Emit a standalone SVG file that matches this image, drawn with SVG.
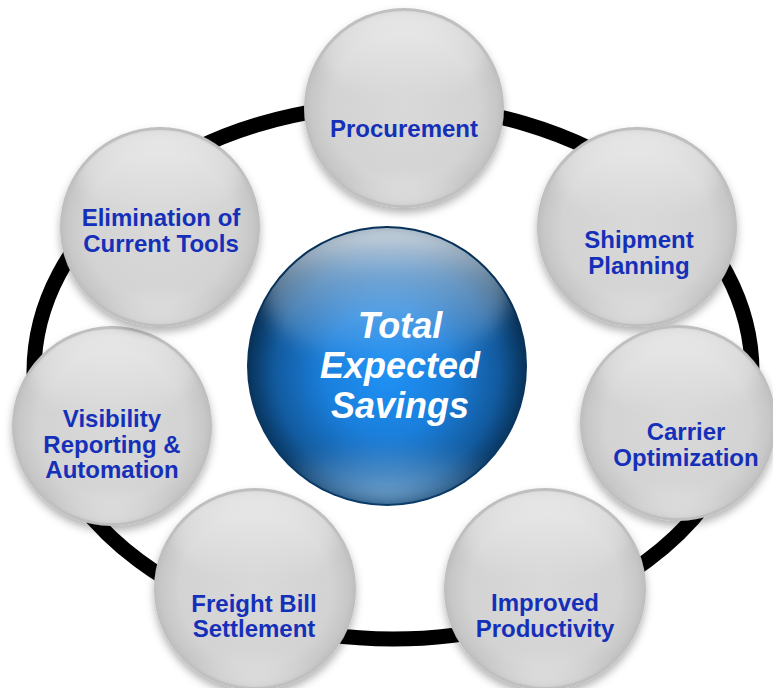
<svg xmlns="http://www.w3.org/2000/svg" width="773" height="688" viewBox="0 0 773 688">
<defs>
<radialGradient id="gBase" cx="50%" cy="50%" r="50%">
<stop offset="0" stop-color="#d9d9d9"/>
<stop offset="0.75" stop-color="#d3d3d3"/>
<stop offset="0.93" stop-color="#c7c7c7"/>
<stop offset="1" stop-color="#bdbdbd"/>
</radialGradient>
<linearGradient id="gGloss" x1="0" y1="0" x2="0" y2="1">
<stop offset="0" stop-color="#ffffff" stop-opacity="0.6"/>
<stop offset="1" stop-color="#ffffff" stop-opacity="0"/>
</linearGradient>
<radialGradient id="gLow" cx="50%" cy="100%" r="60%">
<stop offset="0" stop-color="#ffffff" stop-opacity="0.45"/>
<stop offset="1" stop-color="#ffffff" stop-opacity="0"/>
</radialGradient>
<radialGradient id="bBase" cx="50%" cy="52%" r="50%">
<stop offset="0" stop-color="#1f92f6"/>
<stop offset="0.45" stop-color="#1a7fdc"/>
<stop offset="0.8" stop-color="#125a9e"/>
<stop offset="1" stop-color="#073158"/>
</radialGradient>
<linearGradient id="bGloss" x1="0" y1="0" x2="0" y2="1">
<stop offset="0" stop-color="#ffffff" stop-opacity="0.9"/>
<stop offset="0.4" stop-color="#dceaf6" stop-opacity="0.45"/>
<stop offset="1" stop-color="#ffffff" stop-opacity="0"/>
</linearGradient>
<radialGradient id="bLow" cx="50%" cy="100%" r="65%">
<stop offset="0" stop-color="#a8d0f0" stop-opacity="0.7"/>
<stop offset="1" stop-color="#a8d0f0" stop-opacity="0"/>
</radialGradient>
<filter id="sh" x="-20%" y="-20%" width="140%" height="150%">
<feDropShadow dx="0" dy="5" stdDeviation="4" flood-color="#000" flood-opacity="0.3"/>
</filter>
<filter id="soft" x="-30%" y="-30%" width="160%" height="160%">
<feGaussianBlur stdDeviation="7"/>
</filter>
<filter id="soft2" x="-30%" y="-30%" width="160%" height="160%">
<feGaussianBlur stdDeviation="9"/>
</filter>
<clipPath id="cc"><circle cx="0" cy="0" r="97"/></clipPath>
<clipPath id="bc"><circle cx="387" cy="366" r="138"/></clipPath>
<symbol id="ball" viewBox="-100 -100 200 200" overflow="visible">
<circle r="100" fill="url(#gBase)"/>
<g clip-path="url(#cc)">
<ellipse cx="0" cy="-56" rx="84" ry="46" fill="url(#gGloss)" filter="url(#soft)"/>
<ellipse cx="0" cy="66" rx="75" ry="36" fill="url(#gLow)" filter="url(#soft)"/>
</g>
</symbol>
</defs>
<style>
.t{font-family:"Liberation Sans",Arial,sans-serif;font-weight:bold;font-size:24px;fill:#1530b8;text-anchor:middle}
.c{font-family:"Liberation Sans",Arial,sans-serif;font-weight:bold;font-style:italic;font-size:36px;fill:#ffffff;text-anchor:middle}
</style>
<rect width="773" height="688" fill="#ffffff"/>
<g id="connectors">
<ellipse cx="393" cy="372" rx="359" ry="267" fill="none" stroke="#000000" stroke-width="15"/>
</g>
<g id="procurement">
<use href="#ball" x="304" y="8" width="200" height="200" filter="url(#sh)"/>
<text class="t" x="404" y="137">Procurement</text>
</g>
<g id="shipment">
<use href="#ball" x="537" y="127" width="200" height="200" filter="url(#sh)"/>
<text class="t" x="639" y="248">Shipment</text>
<text class="t" x="639" y="274">Planning</text>
</g>
<g id="carrier">
<use href="#ball" x="580" y="325" width="196" height="196" filter="url(#sh)"/>
<text class="t" x="686" y="440">Carrier</text>
<text class="t" x="686" y="466">Optimization</text>
</g>
<g id="productivity">
<use href="#ball" x="444" y="488" width="202" height="202" filter="url(#sh)"/>
<text class="t" x="545" y="611">Improved</text>
<text class="t" x="545" y="637">Productivity</text>
</g>
<g id="freight">
<use href="#ball" x="154" y="488" width="202" height="202" filter="url(#sh)"/>
<text class="t" x="254" y="612">Freight Bill</text>
<text class="t" x="254" y="637">Settlement</text>
</g>
<g id="visibility">
<use href="#ball" x="11" y="326" width="202" height="200" filter="url(#sh)"/>
<text class="t" x="112" y="427">Visibility</text>
<text class="t" x="112" y="453">Reporting &amp;</text>
<text class="t" x="112" y="478">Automation</text>
</g>
<g id="elimination">
<use href="#ball" x="59" y="127" width="202" height="200" filter="url(#sh)"/>
<text class="t" x="161" y="226">Elimination of</text>
<text class="t" x="161" y="252">Current Tools</text>
</g>
<g id="center">
<circle cx="387" cy="366" r="140" fill="url(#bBase)"/>
<g clip-path="url(#bc)">
<ellipse cx="387" cy="292" rx="124" ry="72" fill="url(#bGloss)" filter="url(#soft2)"/>
<ellipse cx="387" cy="455" rx="110" ry="50" fill="url(#bLow)" filter="url(#soft2)"/>
</g>
<text class="c" x="400" y="338">Total</text>
<text class="c" x="400" y="378">Expected</text>
<text class="c" x="400" y="418">Savings</text>
</g>
</svg>
